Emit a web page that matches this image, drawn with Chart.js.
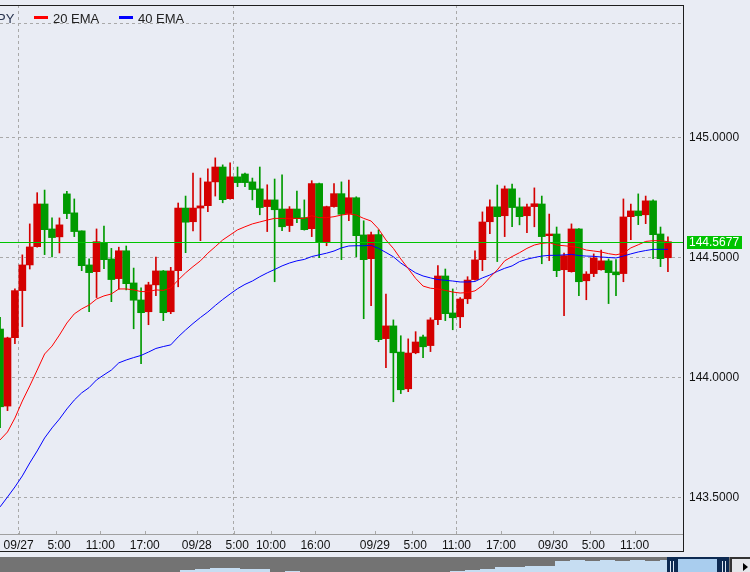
<!DOCTYPE html>
<html>
<head>
<meta charset="utf-8">
<script src="https://cdn.jsdelivr.net/npm/chart.js@4.4.0/dist/chart.umd.min.js"></script>
<style>
  html, body { margin: 0; padding: 0; background: #e9ecf4; }
  #wrap { position: relative; width: 750px; height: 572px; overflow: hidden; background: #e9ecf4; }
  #main { position: absolute; left: 0; top: 0; width: 750px; height: 552px; }
  #nav { position: absolute; left: 0; top: 557px; width: 750px; height: 15px; }
</style>
</head>
<body>
<div id="wrap">
  <div id="main"><canvas id="chart"></canvas></div>
  <div id="nav"><canvas id="navChart"></canvas></div>
</div>
<script>
// --- hourly candles, first one is 09/26 21:00 ---
const opens = [
  144.204, 143.883, 144.168, 144.364, 144.471, 144.547, 144.725, 144.621, 144.588, 144.767,
  144.688, 144.613, 144.471, 144.443, 144.565, 144.496, 144.414, 144.530, 144.396, 144.325,
  144.276, 144.388, 144.446, 144.276, 144.447, 144.708, 144.651, 144.708, 144.718, 144.817,
  144.879, 144.747, 144.838, 144.850, 144.817, 144.788, 144.714, 144.742, 144.704, 144.635,
  144.704, 144.668, 144.622, 144.810, 144.568, 144.714, 144.768, 144.685, 144.751, 144.596,
  144.497, 144.597, 144.164, 144.217, 144.108, 143.955, 144.105, 144.171, 144.135, 144.243,
  144.425, 144.271, 144.255, 144.330, 144.410, 144.493, 144.651, 144.713, 144.676, 144.788,
  144.713, 144.676, 144.714, 144.725, 144.593, 144.600, 144.451, 144.443, 144.621, 144.405,
  144.435, 144.451, 144.488, 144.442, 144.435, 144.672, 144.696, 144.680, 144.738, 144.600,
  144.501
];
const closes = [
  143.880, 144.167, 144.364, 144.471, 144.546, 144.725, 144.618, 144.585, 144.638, 144.685,
  144.610, 144.468, 144.439, 144.568, 144.493, 144.410, 144.530, 144.393, 144.324, 144.272,
  144.388, 144.446, 144.272, 144.446, 144.708, 144.649, 144.708, 144.717, 144.817, 144.879,
  144.743, 144.838, 144.814, 144.814, 144.785, 144.710, 144.742, 144.701, 144.630, 144.704,
  144.664, 144.618, 144.810, 144.567, 144.714, 144.768, 144.682, 144.751, 144.593, 144.493,
  144.597, 144.160, 144.217, 144.105, 143.951, 144.104, 144.150, 144.130, 144.242, 144.425,
  144.268, 144.251, 144.329, 144.408, 144.492, 144.650, 144.713, 144.672, 144.788, 144.710,
  144.672, 144.713, 144.726, 144.589, 144.600, 144.447, 144.510, 144.621, 144.401, 144.433,
  144.500, 144.488, 144.439, 144.430, 144.671, 144.696, 144.676, 144.738, 144.597, 144.497,
  144.5677
];
const highs = [
  144.253, 144.170, 144.371, 144.513, 144.642, 144.772, 144.783, 144.667, 144.667, 144.778,
  144.746, 144.613, 144.496, 144.621, 144.633, 144.540, 144.545, 144.550, 144.458, 144.376,
  144.399, 144.504, 144.448, 144.461, 144.729, 144.758, 144.854, 144.833, 144.871, 144.917,
  144.888, 144.896, 144.879, 144.854, 144.833, 144.879, 144.805, 144.829, 144.846, 144.714,
  144.779, 144.742, 144.822, 144.812, 144.716, 144.810, 144.817, 144.825, 144.755, 144.655,
  144.608, 144.617, 144.350, 144.242, 144.176, 144.163, 144.193, 144.179, 144.251, 144.468,
  144.454, 144.371, 144.335, 144.422, 144.530, 144.692, 144.742, 144.804, 144.800, 144.808,
  144.750, 144.725, 144.792, 144.758, 144.683, 144.629, 144.520, 144.642, 144.623, 144.443,
  144.517, 144.533, 144.496, 144.493, 144.746, 144.725, 144.767, 144.758, 144.742, 144.629,
  144.588
];
const lows = [
  143.793, 143.864, 144.143, 144.214, 144.454, 144.545, 144.514, 144.504, 144.521, 144.664,
  144.589, 144.447, 144.276, 144.335, 144.455, 144.318, 144.370, 144.367, 144.205, 144.060,
  144.222, 144.343, 144.239, 144.268, 144.380, 144.522, 144.613, 144.572, 144.693, 144.758,
  144.730, 144.745, 144.797, 144.797, 144.742, 144.680, 144.610, 144.401, 144.614, 144.610,
  144.647, 144.616, 144.589, 144.501, 144.551, 144.712, 144.493, 144.655, 144.505, 144.247,
  144.301, 144.151, 144.043, 143.901, 143.935, 143.943, 144.101, 144.085, 144.110, 144.222,
  144.239, 144.201, 144.210, 144.310, 144.408, 144.447, 144.601, 144.485, 144.589, 144.630,
  144.638, 144.605, 144.630, 144.476, 144.489, 144.422, 144.260, 144.441, 144.343, 144.326,
  144.422, 144.449, 144.310, 144.343, 144.401, 144.576, 144.639, 144.643, 144.497, 144.464,
  144.443
];
const ema20 = [
  143.742, 143.775, 143.833, 143.904, 143.967, 144.033, 144.100, 144.133, 144.179, 144.229,
  144.267, 144.288, 144.304, 144.329, 144.342, 144.350, 144.371, 144.371, 144.367, 144.360,
  144.360, 144.367, 144.365, 144.375, 144.408, 144.438, 144.464, 144.488, 144.520, 144.547,
  144.575, 144.596, 144.617, 144.630, 144.642, 144.650, 144.658, 144.665, 144.665, 144.665,
  144.665, 144.665, 144.676, 144.668, 144.668, 144.672, 144.679, 144.683, 144.679, 144.665,
  144.654, 144.621, 144.575, 144.540, 144.496, 144.456, 144.415, 144.383, 144.374, 144.371,
  144.365, 144.358, 144.354, 144.356, 144.363, 144.385, 144.419, 144.450, 144.488, 144.506,
  144.522, 144.540, 144.554, 144.561, 144.564, 144.554, 144.551, 144.548, 144.543, 144.533,
  144.529, 144.525, 144.518, 144.513, 144.520, 144.542, 144.555, 144.569, 144.572, 144.572,
  144.568
];
const ema40 = [
  143.463, 143.504, 143.546, 143.592, 143.646, 143.696, 143.750, 143.792, 143.829, 143.871,
  143.908, 143.938, 143.960, 143.992, 144.013, 144.033, 144.063, 144.075, 144.085, 144.094,
  144.108, 144.123, 144.131, 144.138, 144.171, 144.200, 144.227, 144.252, 144.275, 144.302,
  144.327, 144.350, 144.372, 144.390, 144.404, 144.422, 144.438, 144.452, 144.467, 144.479,
  144.488, 144.494, 144.506, 144.513, 144.520, 144.529, 144.542, 144.550, 144.551, 144.551,
  144.553, 144.540, 144.523, 144.505, 144.479, 144.458, 144.438, 144.425, 144.417, 144.410,
  144.407, 144.404, 144.400, 144.400, 144.402, 144.417, 144.429, 144.444, 144.457, 144.467,
  144.485, 144.495, 144.502, 144.508, 144.511, 144.511, 144.513, 144.515, 144.510, 144.508,
  144.507, 144.504, 144.502, 144.500, 144.508, 144.517, 144.525, 144.531, 144.536, 144.536,
  144.536
];
const lastPrice = 144.5677;

// hours counted from 09/27 0:00, candle 3 is 09/27 0:00
const firstCandleHour = -3;
const tickHours = [0, 5, 11, 17, 24, 29, 34, 40, 48, 53, 59, 65, 72, 77, 83];
const tickLabels = ['09/27', '5:00', '11:00', '17:00', '09/28', '5:00', '10:00', '16:00',
                    '09/29', '5:00', '11:00', '17:00', '09/30', '5:00', '11:00'];
const gridHours = [0, 29, 59];
const yTickValues = [143.5, 144.0, 144.5, 145.0];
const yTopGrid = 145.475;

// overview strip under the chart
const navLevels = [0, 0, 0, 0, 0, 0, 0, 0, 0, 0, 0, 0, 2, 3, 4, 4, 3, 3, 0, 1,
                   0, 0, 0, 0, 0, 0, 0, 0, 0, 0, 1, 2, 3, 5, 5, 6, 6, 11, 12, 11,
                   12, 11, 12, 11, 12, 13, 13, 13, 12];

const FONT = "'Liberation Sans', Arial, sans-serif";
const UP = '#d40000', DOWN = '#009a00';
const GRID = '#a9a9a9';

const candleColors = opens.map((o, i) => closes[i] >= o ? UP : DOWN);
const idx = opens.map((_, i) => i);
const hourToX = h => h - firstCandleHour - 0.5;

function noPad(s) {
    s.paddingTop = 0;
    s.paddingBottom = 0;
    s.paddingLeft = 0;
    s.paddingRight = 0;
}

const framePlugin = {
    id: 'frame',
    afterDatasetsDraw(chart) {
        const ctx = chart.ctx, a = chart.chartArea;
        // current price line
        const py = Math.round(chart.scales.y.getPixelForValue(lastPrice));
        ctx.save();
        ctx.fillStyle = '#00c400';
        ctx.fillRect(a.left, py, a.right - a.left, 1);
        ctx.restore();
    },
    afterDraw(chart) {
        const ctx = chart.ctx, a = chart.chartArea;
        const xs = chart.scales.x;
        ctx.save();
        // small tick marks on the time axis
        ctx.fillStyle = GRID;
        tickHours.forEach(h => {
            const x = Math.round(xs.getPixelForValue(hourToX(h)));
            ctx.fillRect(x, a.bottom - 3, 1, 3);
        });
        ctx.fillStyle = '#a0a0a0';
        ctx.fillRect(a.left, a.bottom, a.right - a.left, 1);
        // frame
        ctx.fillStyle = '#1e1e1e';
        ctx.fillRect(a.left, a.top, a.right - a.left + 1, 1);
        ctx.fillRect(a.right, a.top, 1, 551 - a.top + 1);
        ctx.fillRect(a.left, 551, a.right - a.left + 1, 1);

        // price label
        const py = Math.round(chart.scales.y.getPixelForValue(lastPrice));
        ctx.fillStyle = '#00c400';
        ctx.fillRect(687, py - 6, 55, 13);
        ctx.fillStyle = '#ffffff';
        ctx.font = '12px ' + FONT;
        ctx.textBaseline = 'middle';
        ctx.fillText(lastPrice.toFixed(4), 689, py + 1);

        // legend
        ctx.font = '13px ' + FONT;
        ctx.textBaseline = 'alphabetic';
        ctx.fillStyle = '#2a3550';
        ctx.fillText('PY', -3, 23);
        ctx.fillStyle = '#ff0000';
        ctx.fillRect(34, 16, 14, 3);
        ctx.fillStyle = '#222';
        ctx.fillText('20 EMA', 53, 23);
        ctx.fillStyle = '#0000ff';
        ctx.fillRect(119, 16, 14, 3);
        ctx.fillStyle = '#222';
        ctx.fillText('40 EMA', 138, 23);
        ctx.restore();
    }
};

new Chart(document.getElementById('chart'), {
    type: 'bar',
    data: {
        datasets: [
            {
                type: 'line',
                label: '20 EMA',
                data: idx.map(i => ({ x: i, y: ema20[i] })),
                borderColor: '#ff0000',
                borderWidth: 1,
                pointRadius: 0,
                tension: 0,
                order: 0
            },
            {
                type: 'line',
                label: '40 EMA',
                data: idx.map(i => ({ x: i, y: ema40[i] })),
                borderColor: '#0000ff',
                borderWidth: 1,
                pointRadius: 0,
                tension: 0,
                order: 0
            },
            {
                type: 'bar',
                label: 'body',
                data: idx.map(i => ({ x: i, y: [opens[i], closes[i]] })),
                backgroundColor: candleColors,
                barThickness: 7,
                minBarLength: 1,
                grouped: false,
                order: 1
            },
            {
                type: 'bar',
                label: 'wick',
                data: idx.map(i => ({ x: i, y: [lows[i], highs[i]] })),
                backgroundColor: candleColors,
                barThickness: 1,
                grouped: false,
                order: 2
            }
        ]
    },
    options: {
        responsive: true,
        maintainAspectRatio: false,
        animation: false,
        layout: { padding: { top: 5, left: 0, right: 0, bottom: 0 } },
        plugins: { legend: { display: false }, tooltip: { enabled: false } },
        scales: {
            x: {
                type: 'linear',
                min: -0.01,
                max: 92.03,
                offset: false,
                afterBuildTicks: s => { s.ticks = tickHours.map(h => ({ value: hourToX(h) })); },
                afterFit: s => { s.height = 18; noPad(s); },
                grid: {
                    offset: false,
                    drawTicks: false,
                    color: c => gridHours.includes(tickHours[c.index]) ? GRID : 'rgba(0,0,0,0)'
                },
                border: { display: false, dash: [3, 3] },
                ticks: {
                    autoSkip: false,
                    maxRotation: 0,
                    padding: 4,
                    color: '#111',
                    font: { family: FONT, size: 12 },
                    callback: (v, i) => tickLabels[i].length === 4 ? '  ' + tickLabels[i] : tickLabels[i]
                }
            },
            y: {
                position: 'right',
                min: 143.35,
                max: 145.554,
                afterBuildTicks: s => { s.ticks = yTickValues.concat([yTopGrid]).map(v => ({ value: v })); },
                afterFit: s => { s.width = 67; noPad(s); },
                grid: { color: GRID, drawTicks: false },
                border: { display: false, dash: [3, 3] },
                ticks: {
                    padding: 6,
                    color: '#111',
                    font: { family: FONT, size: 12 },
                    callback: v => yTickValues.includes(v) ? v.toFixed(4) : ''
                }
            }
        }
    },
    plugins: [framePlugin]
});

// --- overview strip ---
const navPlugin = {
    id: 'navFrame',
    beforeDraw(chart) {
        const ctx = chart.ctx;
        ctx.save();
        ctx.fillStyle = '#737373';
        ctx.fillRect(0, 0, 730, chart.height);
        ctx.restore();
    },
    afterDraw(chart) {
        const ctx = chart.ctx, h = chart.height;
        ctx.save();
        // selected window
        ctx.fillStyle = '#0d2a52';
        ctx.fillRect(667, 0, 62, h);
        ctx.fillStyle = '#a9cdee';
        ctx.fillRect(678, 2, 39, h - 2);
        ctx.fillStyle = '#dfe9f5';
        ctx.fillRect(670, 4, 1, h - 4);
        ctx.fillRect(673, 4, 1, h - 4);
        ctx.fillRect(722, 4, 1, h - 4);
        ctx.fillRect(725, 4, 1, h - 4);
        // scroll button
        ctx.fillStyle = '#333';
        ctx.fillRect(730, 0, 20, h);
        ctx.fillStyle = '#e4e6ea';
        ctx.fillRect(732, 2, 18, h - 2);
        ctx.fillStyle = '#000';
        ctx.beginPath();
        ctx.moveTo(743, 6);
        ctx.lineTo(748, 10);
        ctx.lineTo(743, 14);
        ctx.closePath();
        ctx.fill();
        ctx.restore();
    }
};

new Chart(document.getElementById('navChart'), {
    type: 'line',
    data: {
        datasets: [{
            data: navLevels.map((v, i) => ({ x: i, y: v })),
            fill: 'start',
            backgroundColor: '#c6ddf2',
            borderWidth: 0,
            pointRadius: 0,
            stepped: true
        }]
    },
    options: {
        responsive: true,
        maintainAspectRatio: false,
        animation: false,
        layout: { padding: 0 },
        plugins: { legend: { display: false }, tooltip: { enabled: false } },
        scales: {
            x: { type: 'linear', display: false, min: 0, max: 50 },
            y: { display: false, min: 0, max: 15 }
        }
    },
    plugins: [navPlugin]
});
</script>
</body>
</html>
